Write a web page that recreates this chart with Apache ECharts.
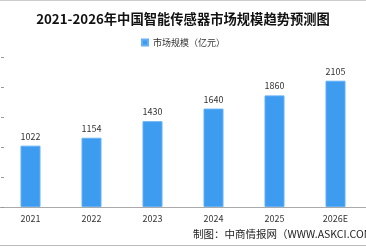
<!DOCTYPE html>
<html>
<head>
<meta charset="utf-8">
<script src="https://cdn.jsdelivr.net/npm/echarts@6/dist/echarts.min.js"></script>
<style>
  html, body { margin: 0; padding: 0; background: #fff; }
  #chart { width: 366px; height: 248px; }
</style>
</head>
<body>
<div id="chart"></div>
<script>
// dati del grafico
const anni = ['2021', '2022', '2023', '2024', '2025', '2026E'];
const valori = [1022, 1154, 1430, 1640, 1860, 2105];
const nomeSerie = '市场规模（亿元）';
const titolo = '2021-2026年中国智能传感器市场规模趋势预测图';
const fonte = '制图：中商情报网（WWW.ASKCI.COM）';

const chart = echarts.init(document.getElementById('chart'));

const option = {
  animation: false,
  textStyle: { fontFamily: '"Noto Sans CJK SC", sans-serif' },
  title: {
    text: titolo,
    left: 'center',
    top: 7,
    textStyle: {
      fontSize: 13.3,
      fontWeight: 'bold',
      color: '#111',
      fontFamily: '"Noto Sans CJK SC", serif'
    }
  },
  legend: {
    data: [nomeSerie],
    top: 33,
    left: 'center',
    itemWidth: 6,
    itemHeight: 6,
    itemGap: 4,
    icon: 'rect',
    textStyle: { fontSize: 9, color: '#333' }
  },
  grid: {
    left: -3,
    right: -5,
    top: 57,
    bottom: 41
  },
  xAxis: {
    type: 'category',
    data: anni,
    axisLine: { lineStyle: { color: '#aaa' } },
    axisTick: { inside: true, length: 3, lineStyle: { color: '#999' } },
    axisLabel: { fontSize: 9, color: '#333', margin: 7 }
  },
  yAxis: {
    type: 'value',
    min: 0,
    max: 2500,
    interval: 500,
    offset: -4,
    axisLine: { show: false },
    axisTick: { show: true, length: 3, lineStyle: { color: '#999' } },
    axisLabel: { show: false },
    splitLine: { show: false }
  },
  series: [{
    name: nomeSerie,
    type: 'bar',
    data: valori,
    barWidth: 20,
    itemStyle: { color: '#3d9bf0', borderColor: '#62b0f5', borderWidth: 1 },
    label: {
      show: true,
      position: 'top',
      distance: 5,
      fontSize: 9,
      color: '#333'
    }
  }],
  graphic: [
    {
      type: 'line',
      shape: { x1: 0, y1: 0.5, x2: 366, y2: 0.5 },
      style: { stroke: '#ccc', lineWidth: 1 }
    },
    {
      type: 'line',
      shape: { x1: 0, y1: 245.5, x2: 366, y2: 245.5 },
      style: { stroke: '#bbb', lineWidth: 1 }
    },
    {
      type: 'text',
      left: 193,
      top: 229,
      style: {
        text: fonte,
        fontSize: 10.5,
        fill: '#222',
        fontFamily: '"Noto Sans CJK SC", monospace'
      }
    }
  ]
};

chart.setOption(option);
</script>
</body>
</html>
